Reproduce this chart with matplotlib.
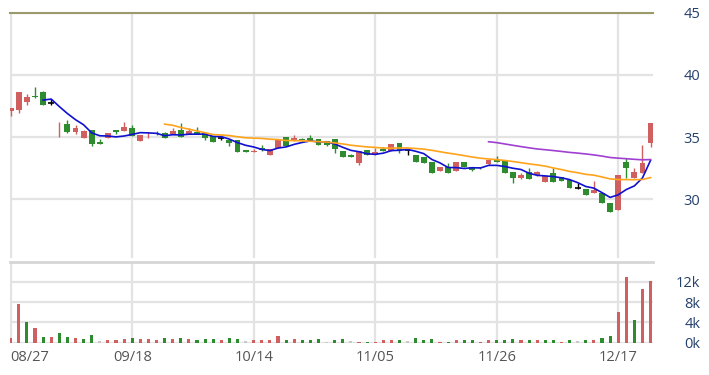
import numpy as np
import pandas as pd
import matplotlib.pyplot as plt
from matplotlib.ticker import FuncFormatter

# daily candles (open, high, low, close) and volume
opens = [37.1, 37.2, 37.8, 38.3, 38.6, 37.7, 35.55, 36.05, 35.4, 34.95,
         35.6, 34.6, 34.96, 35.55, 35.5, 35.75, 34.65, 35.15, 35.3, 35.35,
         35.26, 35.6, 35.25, 35.45, 35.3, 35.1, 34.95, 34.75, 34.78, 33.95,
         33.8, 34.1, 33.57, 34.1, 35.0, 34.65, 34.85, 34.9, 34.85, 34.65,
         34.86, 33.9, 33.55, 32.9, 33.95, 33.55, 34.05, 33.9, 34.56, 33.97,
         33.57, 33.4, 33.0, 32.32, 32.6, 32.25, 33.0, 32.6, 32.62, 32.85,
         33.2, 33.12, 32.18, 31.7, 32.18, 31.97, 31.43, 32.15, 31.83, 31.57,
         30.95, 30.85, 30.55, 30.5, 29.7, 29.16, 33.04, 31.7, 32.1, 34.5]
highs = [37.35, 38.65, 38.45, 39.0, 38.7, 38.1, 36.25, 36.4, 35.95, 35.55,
         35.6, 34.85, 35.3, 35.55, 36.2, 35.95, 35.15, 35.45, 35.5, 35.4,
         35.7, 36.15, 35.7, 35.8, 35.3, 35.1, 35.05, 34.75, 34.78, 34.0,
         34.05, 34.35, 34.03, 34.85, 35.0, 35.2, 34.9, 35.2, 34.86, 34.65,
         34.86, 33.9, 33.65, 33.85, 33.95, 34.1, 34.2, 34.45, 34.56, 34.0,
         33.57, 33.4, 33.0, 32.6, 32.9, 33.0, 33.0, 32.6, 32.62, 33.2,
         33.45, 33.12, 32.18, 32.1, 32.5, 32.3, 31.91, 32.5, 31.83, 31.57,
         31.3, 30.85, 31.45, 30.5, 29.7, 32.0, 33.3, 32.5, 34.37, 36.1]
lows = [36.7, 36.9, 37.6, 38.15, 37.55, 37.55, 35.0, 35.3, 35.25, 34.95,
        34.3, 34.45, 34.96, 35.25, 35.5, 35.1, 34.65, 34.95, 35.2, 34.9,
        35.26, 35.05, 35.25, 35.25, 34.8, 34.6, 34.8, 34.25, 33.84, 33.8,
        33.8, 33.9, 33.57, 34.1, 34.3, 34.65, 34.7, 34.65, 34.4, 34.32,
        33.7, 33.4, 33.4, 32.8, 33.6, 33.55, 33.9, 33.9, 33.76, 33.55,
        33.04, 32.9, 32.1, 32.3, 32.1, 32.25, 32.6, 32.25, 32.45, 32.8,
        33.0, 32.15, 31.35, 31.6, 31.65, 31.9, 31.43, 31.43, 31.5, 30.95,
        30.8, 30.37, 30.55, 29.7, 29.03, 29.16, 31.7, 31.7, 32.1, 34.2]
closes = [37.3, 38.6, 38.2, 38.22, 37.55, 37.7, 35.6, 35.4, 35.75, 35.5,
          34.45, 34.45, 35.3, 35.4, 35.85, 35.1, 35.15, 35.2, 35.22, 34.9,
          35.5, 35.05, 35.5, 35.25, 34.9, 34.6, 34.95, 34.5, 33.84, 33.84,
          33.92, 33.97, 34.03, 34.85, 34.3, 34.95, 34.75, 34.65, 34.4, 34.4,
          34.05, 33.42, 33.42, 33.85, 33.6, 33.8, 33.9, 34.45, 33.97, 33.97,
          33.04, 32.95, 32.1, 32.6, 32.12, 33.0, 32.6, 32.4, 32.5, 33.17,
          33.0, 32.15, 31.7, 32.0, 31.65, 32.18, 31.91, 31.43, 31.5, 30.95,
          30.95, 30.37, 30.77, 29.7, 29.03, 31.97, 32.5, 32.23, 32.9, 36.1]
volumes = [1000, 7700, 4000, 2950, 1200, 1200, 2000, 1200, 900, 700,
           1450, 350, 500, 500, 700, 1000, 700, 700, 450, 850,
           800, 1000, 700, 500, 700, 700, 500, 850, 700, 300,
           500, 500, 500, 1250, 500, 700, 500, 500, 700, 200,
           600, 650, 400, 200, 200, 200, 450, 450, 450, 350,
           900, 600, 700, 150, 150, 450, 450, 450, 200, 450,
           450, 600, 800, 450, 450, 450, 600, 600, 200, 500,
           350, 550, 450, 900, 1400, 6100, 12900, 4500, 10600, 12200]
tick_labels = ['08/27', '09/18', '10/14', '11/05', '11/26', '12/17']
tick_step = 15

RED = '#d0605f'
GREEN = '#2e8b2e'
GREY = '#c8c8c8'
LABEL = '#24406c'
GRID = '#e3e3e3'

o = np.array(opens)
h = np.array(highs)
l = np.array(lows)
c = np.array(closes)
v = np.array(volumes)
x = np.arange(len(c))

ma5 = pd.Series(c).rolling(5).mean()
ma20 = pd.Series(c).rolling(20).mean()
ma60 = pd.Series(c).rolling(60).mean()

# candle colour: close vs open; volume colour: close vs previous close
cand_col = np.where(c > o, RED, np.where(c < o, GREEN, 'black'))
prev = np.concatenate([[c[0] - 1], c[:-1]])
vol_col = np.where(c > prev, RED, np.where(c < prev, GREEN, GREY))

plt.rcParams['font.family'] = ['Open Sans', 'DejaVu Sans']

fig = plt.figure(figsize=(7.09, 3.75), dpi=100)
ax = fig.add_axes([0.0134, 0.312, 0.9076, 0.6546])
axv = fig.add_axes([0.0134, 0.0861, 0.9076, 0.2159], sharex=ax)

# price panel
ax.vlines(x, l, h, colors=cand_col, linewidth=1, zorder=3)
body = np.abs(c - o)
ax.bar(x, body, bottom=np.minimum(o, c), width=0.72, color=cand_col, linewidth=0, zorder=3)
doji = c == o
ax.hlines(c[doji], x[doji] - 0.36, x[doji] + 0.36, colors='black', linewidth=1.2, zorder=3)
ax.plot(x, ma5, color='#1010d0', linewidth=1.2, zorder=4)
ax.plot(x, ma20, color='#ffa31a', linewidth=1.2, zorder=4)
ax.plot(x, ma60, color='#a040d0', linewidth=1.2, zorder=4)

ax.set_xlim(-0.15, 79.3)
ax.set_ylim(25.3, 45)
ax.set_yticks([30, 35, 40, 45])

# volume panel
axv.bar(x, v, width=0.38, color=vol_col, linewidth=0, zorder=3)
axv.set_ylim(0, 16000)
axv.set_yticks([0, 4000, 8000, 12000])
axv.yaxis.set_major_formatter(FuncFormatter(lambda val, pos: f'{val / 1000:.0f}k'))

ticks = np.arange(0, len(c), tick_step)
for a in (ax, axv):
    a.set_xticks(ticks)
    a.grid(True, color=GRID, linewidth=1.6, zorder=0)
    a.yaxis.tick_right()
    a.tick_params(axis='y', length=0, pad=34, labelsize=10.5, labelcolor=LABEL)
    for lab in a.get_yticklabels():
        lab.set_horizontalalignment('right')
    for side in ('left', 'right', 'bottom'):
        a.spines[side].set_visible(False)

ax.spines['top'].set_color('#9a9a6a')
ax.spines['top'].set_linewidth(1.5)
axv.spines['top'].set_color('#d6d6d6')
axv.spines['top'].set_linewidth(2)
ax.tick_params(axis='x', length=0, labelbottom=False)

axv.set_xticklabels(tick_labels)
axv.tick_params(axis='x', length=0, pad=5, labelsize=10.5, labelcolor='#555555')
axv.get_xticklabels()[0].set_horizontalalignment('left')
axv.get_xticklabels()[0].set_x(-0.1)

fig.savefig('out.png', dpi=100)
